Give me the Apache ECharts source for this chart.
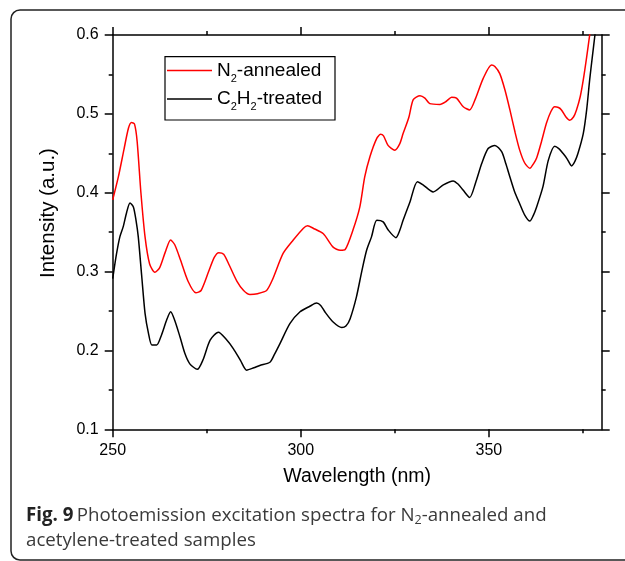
<!DOCTYPE html>
<html>
<head>
<meta charset="utf-8">
<script src="https://cdn.jsdelivr.net/npm/echarts@6/dist/echarts.min.js"></script>
<style>
html,body{margin:0;padding:0;background:#fff;}
#chart{width:625px;height:561px;}
</style>
</head>
<body>
<div id="chart"></div>
<script>
// ---- data ----
const redX = [250,251.5,253,254.2,255,255.8,256.5,257.5,258.6,259.8,261.2,262.5,264,265.4,266.5,268,270,272.1,273.5,275.5,277,278.2,279.5,281,283,284.8,286.5,288.5,290.9,292.5,295.3,298,300.7,301.8,303.3,306,308.6,310.5,311.8,313.9,315.7,317,318.4,320.2,321.2,322,323.2,325,326.3,327.2,328.7,329.9,331.7,333,334.3,337,338.7,340.1,341.4,343.2,344.9,346.5,348.5,350.7,351.6,352.9,354.3,355.6,357,358.2,359.5,360.9,361.9,362.7,364,365.3,366.5,367.5,368.5,369.3,370.5,371.5,372.5,373.3,374.3,375.1,376,376.8,377.5];
const redY = [0.391,0.42,0.455,0.482,0.489,0.487,0.465,0.40,0.344,0.31,0.299,0.305,0.325,0.340,0.334,0.315,0.288,0.273,0.276,0.300,0.318,0.324,0.322,0.308,0.288,0.276,0.271,0.272,0.276,0.290,0.323,0.340,0.355,0.358,0.355,0.348,0.331,0.327,0.328,0.353,0.382,0.42,0.446,0.469,0.474,0.472,0.460,0.454,0.462,0.475,0.495,0.518,0.523,0.520,0.513,0.512,0.516,0.521,0.520,0.509,0.505,0.520,0.545,0.562,0.560,0.551,0.530,0.505,0.476,0.454,0.438,0.431,0.437,0.444,0.465,0.488,0.503,0.509,0.508,0.505,0.496,0.492,0.496,0.505,0.522,0.543,0.572,0.600,0.625];
const blackX = [250,251,251.9,252.8,253.7,254.6,255.5,256.2,256.8,257.7,258.6,259.5,260.4,261.7,263,264.3,265.4,266.5,267.9,269.2,270.5,272.5,274,275.9,278.1,280,282.1,284,285.6,287.5,289.1,291.8,293,294.5,297.1,299.8,302.4,304.2,305.3,306.4,308.6,310.9,312,313.1,314.8,316.2,317.5,318.8,320.2,321.9,323.2,325.3,326.3,327.2,329,331,332.5,335.2,337.9,340.5,341.8,343.2,344.9,346.5,348.1,349.8,351.6,353.4,354.5,355.6,356.8,358.2,359.5,360.9,361.8,362.7,364.4,365.8,367.5,368.6,369.7,370.8,372,372.9,373.7,375.1,376,376.8,377.5,378.2,379];
const blackY = [0.291,0.322,0.344,0.357,0.375,0.387,0.382,0.365,0.344,0.295,0.247,0.222,0.207,0.207,0.220,0.238,0.249,0.238,0.217,0.196,0.183,0.176,0.188,0.213,0.223,0.215,0.202,0.187,0.175,0.178,0.181,0.185,0.195,0.209,0.234,0.249,0.256,0.260,0.257,0.249,0.236,0.229,0.231,0.240,0.268,0.300,0.327,0.344,0.365,0.363,0.353,0.343,0.352,0.365,0.388,0.414,0.410,0.401,0.410,0.415,0.411,0.403,0.394,0.413,0.437,0.456,0.460,0.452,0.437,0.420,0.402,0.386,0.372,0.364,0.371,0.382,0.408,0.441,0.459,0.456,0.450,0.443,0.434,0.440,0.450,0.475,0.505,0.543,0.572,0.600,0.632];
const seriesNames = ['N2-annealed', 'C2H2-treated'];
const legendLabels = ['{n|N}{s|2}{n|-annealed}', '{n|C}{s|2}{n|H}{s|2}{n|-treated}'];
const xMajorTicks = [250, 300, 350];
const xMinorTicks = [275, 325, 375];
const xName = 'Wavelength (nm)';
const yName = 'Intensity (a.u.)';
const captionText = '{b|Fig. 9} {r|Photoemission excitation spectra for N}{s|2}{r|-annealed and}\n{r|acetylene-treated samples}';

const zip = (xs, ys) => xs.map((x, i) => [x, ys[i]]);
const AX = 'Liberation Sans, Arial, Helvetica, sans-serif';
const CAP = 'Open Sans, Noto Sans, sans-serif';
const lineCol = '#000';

const chart = echarts.init(document.getElementById('chart'), null, {renderer: 'canvas'});

const gridPos = {left: 112.7, right: 23.3, top: 35, bottom: 131.7, containLabel: false};

function xAxisMain(pos, labels) {
  return {
    type: 'value', gridIndex: 0, position: pos, min: 250, max: 380, interval: 50,
    axisLine: {show: true, onZero: false, lineStyle: {color: lineCol, width: 1.5}},
    axisTick: {show: true, inside: false, length: 8, customValues: xMajorTicks, lineStyle: {color: lineCol, width: 1.5}},
    axisLabel: {show: labels, customValues: xMajorTicks, margin: 13, color: '#000', fontFamily: AX, fontSize: 16,
      formatter: v => (v % 50 === 0 ? String(v) : '')},
    splitLine: {show: false},
    name: labels ? xName : '', nameLocation: 'middle', nameGap: 37,
    nameTextStyle: {fontFamily: AX, fontSize: 19.5, color: '#000'}
  };
}
function xAxisMinor(pos) {
  return {
    type: 'value', gridIndex: 1, position: pos, min: 250, max: 380,
    axisLine: {show: false, onZero: false},
    axisTick: {show: true, inside: false, length: 4, customValues: xMinorTicks, lineStyle: {color: lineCol, width: 1.5}},
    axisLabel: {show: false}, splitLine: {show: false}
  };
}
function yAxisMain(pos, labels) {
  return {
    type: 'value', gridIndex: 0, position: pos, min: 0.1, max: 0.6, interval: 0.1,
    axisLine: {show: true, onZero: false, lineStyle: {color: lineCol, width: 1.5}},
    axisTick: {show: true, inside: false, length: 8, lineStyle: {color: lineCol, width: 1.5}},
    minorTick: {show: true, splitNumber: 2, length: 4, lineStyle: {color: lineCol, width: 1.5}},
    axisLabel: {show: labels, margin: 14, color: '#000', fontFamily: AX, fontSize: 16},
    splitLine: {show: false}, minorSplitLine: {show: false}
  };
}

const option = {
  backgroundColor: '#fff',
  animation: false,
  grid: [gridPos, Object.assign({}, gridPos)],
  xAxis: [xAxisMain('bottom', true), xAxisMain('top', false), xAxisMinor('bottom'), xAxisMinor('top')],
  yAxis: [yAxisMain('left', true), yAxisMain('right', false),
    {type: 'value', gridIndex: 1, min: 0.1, max: 0.6, show: false}],
  legend: {
    orient: 'vertical', left: 167, top: 57, padding: 0, itemGap: 1.5,
    itemWidth: 45, itemHeight: 14,
    icon: 'path://M0,0H30V1H0Z',
    data: seriesNames,
    formatter: name => legendLabels[seriesNames.indexOf(name)],
    textStyle: {
      color: '#000', fontFamily: AX, fontSize: 19,
      rich: {
        n: {fontFamily: AX, fontSize: 19, lineHeight: 22, color: '#000'},
        s: {fontFamily: AX, fontSize: 11, lineHeight: 22, padding: [16, 0, 0, 0], color: '#000'}
      }
    }
  },
  graphic: [
    {type: 'rect', shape: {x: 11, y: 10, width: 700, height: 550, r: 9}, style: {fill: 'none', stroke: '#222', lineWidth: 1.5}, silent: true},
    {type: 'rect', shape: {x: 165, y: 56.7, width: 170, height: 63.3}, style: {fill: 'none', stroke: '#000', lineWidth: 1.2}, silent: true, z: 10},
    {type: 'text', x: 48, y: 213, rotation: Math.PI / 2, silent: true,
      style: {text: yName, fontFamily: AX, fontSize: 20.5, fill: '#000', align: 'center', verticalAlign: 'middle'}},
    {type: 'text', x: 26, y: 503, silent: true,
      style: {
        text: captionText,
        fill: '#333',
        rich: {
          b: {fontFamily: CAP, fontWeight: 'bold', fontSize: 18.7, lineHeight: 25, fill: '#222'},
          r: {fontFamily: CAP, fontSize: 18.7, lineHeight: 25, fill: '#3a3a3a'},
          s: {fontFamily: CAP, fontSize: 12.5, lineHeight: 25, padding: [10, 0, 0, 0], fill: '#3a3a3a'}
        }
      }
    }
  ],
  series: [
    {name: seriesNames[0], type: 'line', xAxisIndex: 0, yAxisIndex: 0, data: zip(redX, redY), smooth: 0.25,
      symbol: 'none', lineStyle: {color: '#ff0000', width: 1.5}, itemStyle: {color: '#ff0000'}, clip: true},
    {name: seriesNames[1], type: 'line', xAxisIndex: 0, yAxisIndex: 0, data: zip(blackX, blackY), smooth: 0.25,
      symbol: 'none', lineStyle: {color: '#000', width: 1.5}, itemStyle: {color: '#000'}, clip: true}
  ]
};
chart.setOption(option);
</script>
</body>
</html>
